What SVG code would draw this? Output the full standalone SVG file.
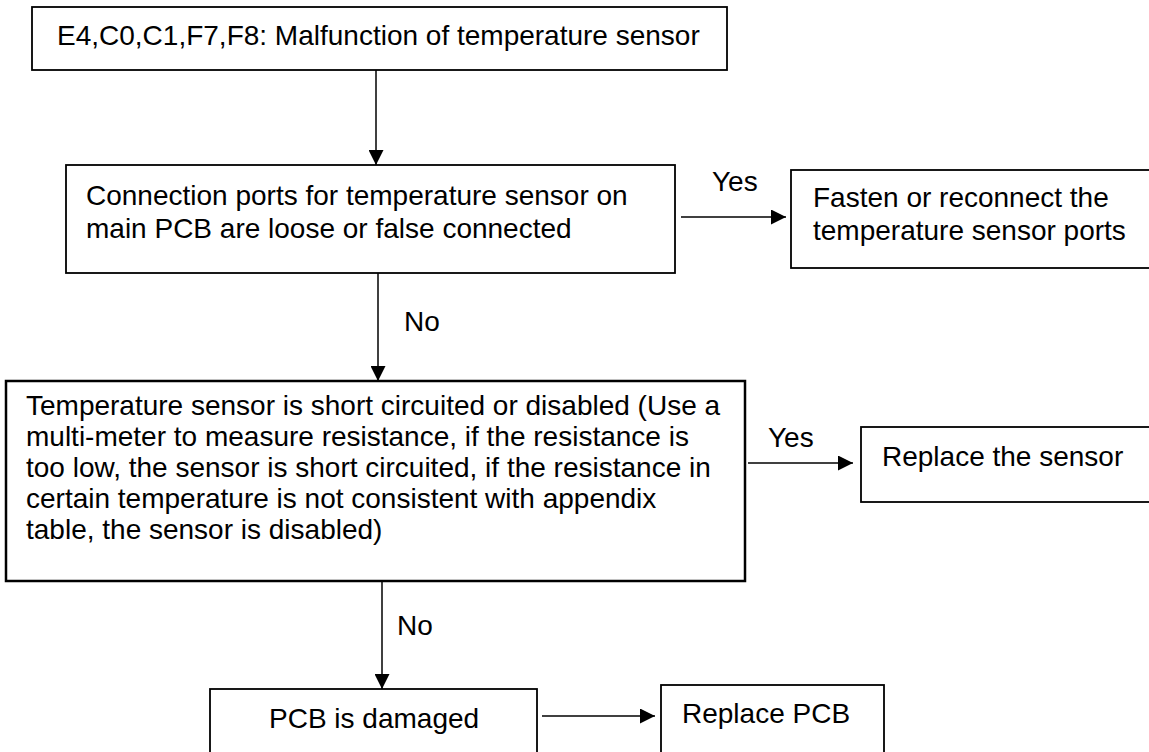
<svg xmlns="http://www.w3.org/2000/svg" width="1149" height="752" viewBox="0 0 1149 752">
<style>
.box{fill:#fff;stroke:#000;stroke-width:1.8}
.t{font-family:"Liberation Sans",Arial,sans-serif;font-size:28px;fill:#000}
.c{stroke:#000;stroke-width:1.5;fill:none}
</style>
<defs>
<marker id="ah" markerWidth="15" markerHeight="15" refX="15" refY="7.5" orient="auto" markerUnits="userSpaceOnUse" viewBox="0 0 15 15">
<path d="M0,0 L15,7.5 L0,15 Z" fill="#000"/>
</marker>
</defs>
<rect width="1149" height="752" fill="#fff"/>
<g id="connectors">
<line class="c" x1="376" y1="70" x2="376" y2="165" marker-end="url(#ah)"/>
<line class="c" x1="681" y1="217" x2="786" y2="217" marker-end="url(#ah)"/>
<line class="c" x1="378" y1="273" x2="378" y2="381" marker-end="url(#ah)"/>
<line class="c" x1="748" y1="463" x2="853" y2="463" marker-end="url(#ah)"/>
<line class="c" x1="382" y1="581" x2="382" y2="689" marker-end="url(#ah)"/>
<line class="c" x1="542" y1="716" x2="655" y2="716" marker-end="url(#ah)"/>
<text class="t" x="712" y="191">Yes</text>
<text class="t" x="404" y="331">No</text>
<text class="t" x="768" y="447">Yes</text>
<text class="t" x="397" y="635">No</text>
</g>
<g id="n1">
<rect class="box" x="32" y="7" width="695" height="63"/>
<text class="t" x="57" y="45">E4,C0,C1,F7,F8: Malfunction of temperature sensor</text>
</g>
<g id="n2">
<rect class="box" x="66" y="165" width="609" height="108"/>
<text class="t" x="86" y="205">Connection ports for temperature sensor on</text>
<text class="t" x="86" y="238">main PCB are loose or false connected</text>
</g>
<g id="n3">
<rect class="box" x="791" y="170" width="361" height="98"/>
<text class="t" x="813" y="207">Fasten or reconnect the</text>
<text class="t" x="813" y="240">temperature sensor ports</text>
</g>
<g id="n4">
<rect class="box" x="6" y="381" width="739" height="200" style="stroke-width:2.5"/>
<text class="t" x="26" y="415">Temperature sensor is short circuited or disabled (Use a</text>
<text class="t" x="26" y="446">multi-meter to measure resistance, if the resistance is</text>
<text class="t" x="26" y="477">too low, the sensor is short circuited, if the resistance in</text>
<text class="t" x="26" y="508">certain temperature is not consistent with appendix</text>
<text class="t" x="26" y="539">table, the sensor is disabled)</text>
</g>
<g id="n5">
<rect class="box" x="861" y="427" width="291" height="75"/>
<text class="t" x="882" y="466">Replace the sensor</text>
</g>
<g id="n6">
<rect class="box" x="210" y="689" width="327" height="80"/>
<text class="t" x="269" y="728">PCB is damaged</text>
</g>
<g id="n7">
<rect class="box" x="661" y="685" width="223" height="85"/>
<text class="t" x="682" y="723">Replace PCB</text>
</g>
</svg>
